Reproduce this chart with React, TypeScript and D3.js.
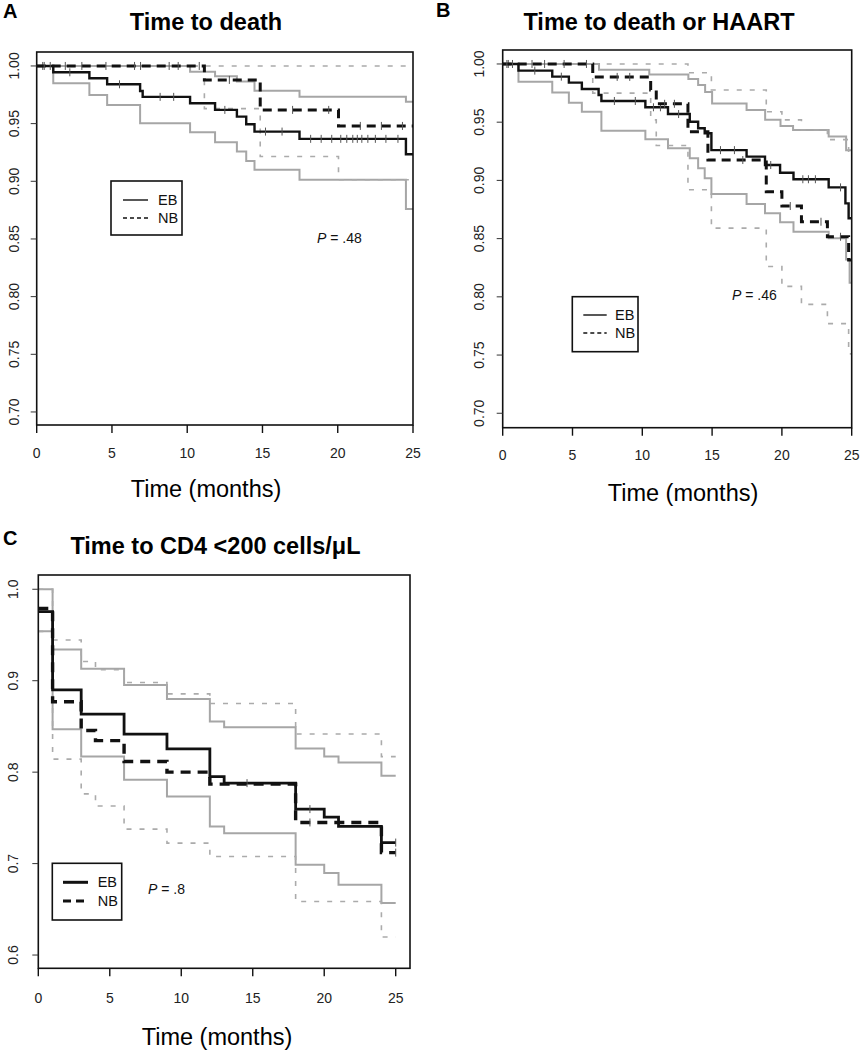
import React from 'react';
import * as d3 from 'd3';

const FONT = '"Liberation Sans", Arial, Helvetica, sans-serif';

// ---------- Panel A: Time to death ----------
const A_EB_T = [0, 1.1, 3.5, 4.68, 6.87, 7.04, 10.19, 11.85, 13.3, 13.92, 14.47, 17.46, 24.53];
const A_EB_S = [1, 0.9945, 0.9893, 0.9841, 0.9783, 0.9732, 0.9677, 0.9619, 0.9561, 0.9495, 0.9431, 0.9368, 0.9235];
const A_EB_LO_T = [0, 1.1, 3.5, 4.68, 6.87, 10.19, 11.85, 13.3, 13.92, 14.47, 17.46, 24.53];
const A_EB_LO_S = [1, 0.985, 0.9749, 0.9662, 0.9504, 0.9426, 0.9339, 0.9258, 0.9177, 0.9099, 0.9013, 0.876];
const A_EB_HI_T = [0, 10.19, 11.85, 13.3, 14.47, 17.46, 24.53];
const A_EB_HI_S = [1, 0.995, 0.991, 0.9865, 0.9784, 0.9734, 0.969];
const A_NB_T = [0, 11.14, 14.85, 20.05];
const A_NB_S = [1, 0.9879, 0.9619, 0.948];
const A_NB_LO_T = [0, 11.14, 14.85, 20.05];
const A_NB_LO_S = [1, 0.963, 0.9215, 0.9013];
const A_NB_HI_T = [0];
const A_NB_HI_S = [1];
const A_EB_CENS = [0.4, 2.2, 5.5, 8.2, 9.1, 12.5, 15.2, 16.3, 18.2, 18.9, 19.6, 20.2, 20.6, 21.0, 21.3, 21.6, 22.0, 22.5, 23.2, 24.0];
const A_NB_CENS = [0.5, 0.9, 1.9, 3.0, 4.6, 6.5, 6.9, 8.8, 9.4, 10.8, 12.8, 17.0, 19.4, 21.5, 22.9, 24.3];

// ---------- Panel B: Time to death or HAART ----------
const B_EB_T = [0, 1.13, 3.55, 4.74, 5.67, 6.87, 7.07, 10.22, 11.84, 13.4, 14.0, 14.47, 14.95, 17.47, 18.79, 19.87, 20.83, 23.35, 24.55, 24.78];
const B_EB_S = [1, 0.9943, 0.9891, 0.984, 0.9785, 0.9734, 0.9682, 0.9628, 0.957, 0.9504, 0.9448, 0.9405, 0.926, 0.9204, 0.9132, 0.9066, 0.901, 0.894, 0.8803, 0.8675];
const B_EB_LO_T = [0, 1.13, 3.55, 4.74, 5.67, 7.07, 10.22, 11.84, 13.4, 14.0, 14.47, 14.95, 17.47, 18.79, 19.87, 20.83, 23.35, 24.6, 24.85];
const B_EB_LO_S = [1, 0.9848, 0.9754, 0.9668, 0.959, 0.9427, 0.9353, 0.9276, 0.919, 0.9104, 0.9018, 0.8883, 0.8797, 0.8717, 0.864, 0.856, 0.8503, 0.832, 0.812];
const B_EB_HI_T = [0, 6.9, 10.5, 13.3, 14.0, 14.5, 15.0, 17.47, 18.8, 19.9, 20.8, 23.35, 24.6];
const B_EB_HI_S = [1, 0.995, 0.991, 0.987, 0.982, 0.976, 0.966, 0.9605, 0.952, 0.9467, 0.9433, 0.9376, 0.926];
const B_NB_T = [0, 6.45, 10.6, 11.0, 13.27, 14.7, 18.88, 20.0, 21.4, 23.26, 24.78];
const B_NB_S = [1, 0.9889, 0.9777, 0.9658, 0.9418, 0.9175, 0.8903, 0.878, 0.8645, 0.8516, 0.8316];
const B_NB_LO_T = [0, 6.45, 10.6, 11.0, 13.27, 14.95, 18.88, 20.0, 21.4, 23.26, 24.78];
const B_NB_LO_S = [1, 0.975, 0.952, 0.93, 0.892, 0.859, 0.826, 0.809, 0.7935, 0.777, 0.751];
const B_NB_HI_T = [0, 13.27, 14.95, 18.88, 20.0, 21.4, 23.26, 24.78];
const B_NB_HI_S = [1, 0.9925, 0.9777, 0.959, 0.952, 0.9433, 0.935, 0.925];
const B_EB_CENS = [0.4, 0.7, 2.3, 4.2, 8.0, 9.5, 10.8, 11.3, 12.6, 15.6, 16.6, 19.2, 21.5, 21.9, 22.4, 24.2];
const B_NB_CENS = [0.3, 2.1, 3.0, 4.4, 6.0, 8.2, 9.1, 11.6, 12.3, 17.2, 20.6, 22.8, 24.2];

// ---------- Panel C: Time to CD4 <200 cells/µL ----------
const C_EB_T = [0, 1, 3, 6, 9, 12, 13, 18, 20, 21, 24];
const C_EB_S = [0.9755, 0.89, 0.8634, 0.8415, 0.8255, 0.7952, 0.788, 0.7596, 0.7508, 0.7406, 0.723];
const C_EB_LO_S = [0.954, 0.847, 0.817, 0.7916, 0.7733, 0.7406, 0.7333, 0.6987, 0.6896, 0.6768, 0.6568];
const C_EB_HI_S = [1, 0.934, 0.913, 0.8954, 0.88, 0.8553, 0.849, 0.826, 0.817, 0.8105, 0.796];
const C_NB_T = [0, 1, 3, 4, 6, 9, 12, 18, 24];
const C_NB_S = [0.979, 0.877, 0.8455, 0.8345, 0.8116, 0.8, 0.7869, 0.745, 0.712];
const C_NB_LO_S = [0.954, 0.8142, 0.7763, 0.763, 0.7377, 0.7224, 0.7077, 0.6586, 0.6197];
const C_NB_HI_S = [1, 0.9446, 0.921, 0.912, 0.898, 0.8856, 0.875, 0.8418, 0.817];
const C_EB_CENS = [14.6, 19.0, 25.0];
const C_NB_CENS = [19.0, 25.0];

const X_TICKS = [0, 5, 10, 15, 20, 25];
const AB_Y_TICKS = [0.7, 0.75, 0.8, 0.85, 0.9, 0.95, 1.0];
const C_Y_TICKS = [0.6, 0.7, 0.8, 0.9, 1.0];
const LEGEND_LABELS = ['EB', 'NB'];

type Series = { t: number[]; s: number[]; role: 'main' | 'ci'; dashed: boolean; cens?: number[] };

interface PanelCfg {
  letter: string; letterX: number; letterY: number;
  title: string; titleX: number; titleY: number;
  box: { x0: number; x1: number; y0: number; y1: number };
  xDomain: [number, number]; yDomain: [number, number];
  yTicks: number[]; yFmt: string; end: number;
  tickLabelY: number; yLabelX: number;
  xLabelX: number; xLabelY: number;
  legend: { x: number; y: number; w: number; h: number; r1: number; r2: number; l0: number; l1: number; tx: number; thick: boolean };
  p: { x: number; y: number; text: string };
  series: Series[];
  mainW: number; dashMain: string;
}

function stepAt(t: number[], s: number[], x: number) {
  let v = s[0];
  for (let i = 0; i < t.length; i++) if (t[i] <= x) v = s[i];
  return v;
}

function Panel({ c }: { c: PanelCfg }) {
  const x = d3.scaleLinear().domain(c.xDomain).range([c.box.x0, c.box.x1]);
  const y = d3.scaleLinear().domain(c.yDomain).range([c.box.y1, c.box.y0]);
  const line = d3.line<[number, number]>().x(d => x(d[0])).y(d => y(d[1])).curve(d3.curveStepAfter);
  const fmt = d3.format(c.yFmt);
  const order = [...c.series].sort((a, b) => (a.role === b.role ? 0 : a.role === 'ci' ? -1 : 1));
  return (
    <g>
      <text x={c.letterX} y={c.letterY} fontFamily={FONT} fontWeight="bold" fontSize={20}>{c.letter}</text>
      <text x={c.titleX} y={c.titleY} textAnchor="middle" fontFamily={FONT} fontWeight="bold" fontSize={23.5}>{c.title}</text>
      {order.map((sr, i) => {
        const pts: [number, number][] = sr.t.map((tt, k) => [tt, sr.s[k]] as [number, number]);
        pts.push([c.end, sr.s[sr.s.length - 1]]);
        const isMain = sr.role === 'main';
        return (
          <g key={i}>
            <path d={line(pts) || ''} fill="none"
              stroke={isMain ? '#111' : sr.dashed ? '#ababab' : '#a6a6a6'}
              strokeWidth={isMain ? (sr.dashed ? c.mainW + 0.6 : c.mainW) : sr.dashed ? 1.6 : 2}
              strokeDasharray={sr.dashed ? (isMain ? c.dashMain : '5,8') : undefined} />
            {(sr.cens || []).map((ct, k) => (
              <line key={k} x1={x(ct)} x2={x(ct)} y1={y(stepAt(sr.t, sr.s, ct)) - 4} y2={y(stepAt(sr.t, sr.s, ct)) + 4}
                stroke="#555" strokeWidth={1} />
            ))}
          </g>
        );
      })}
      <rect x={c.box.x0} y={c.box.y0} width={c.box.x1 - c.box.x0} height={c.box.y1 - c.box.y0} fill="none" stroke="#111" strokeWidth={1.6} />
      {X_TICKS.map(t => (
        <g key={t}>
          <line x1={x(t)} x2={x(t)} y1={c.box.y1} y2={c.box.y1 + 8} stroke="#111" strokeWidth={1.4} />
          <text x={x(t)} y={c.tickLabelY} textAnchor="middle" fontFamily={FONT} fontSize={14} fill="#222">{t}</text>
        </g>
      ))}
      {c.yTicks.map(v => (
        <g key={v}>
          <line x1={c.box.x0 - 6} x2={c.box.x0} y1={y(v)} y2={y(v)} stroke="#333" strokeWidth={1} />
          <text transform={`translate(${c.yLabelX},${y(v)}) rotate(-90)`} textAnchor="middle" fontFamily={FONT} fontSize={14} fill="#222">{fmt(v)}</text>
        </g>
      ))}
      <text x={c.xLabelX} y={c.xLabelY} textAnchor="middle" fontFamily={FONT} fontSize={23.5}>Time (months)</text>
      <rect x={c.legend.x} y={c.legend.y} width={c.legend.w} height={c.legend.h} fill="white" stroke="#111" strokeWidth={1.6} />
      {LEGEND_LABELS.map((lab, i) => {
        const ly = i === 0 ? c.legend.r1 : c.legend.r2;
        return (
          <g key={lab}>
            <line x1={c.legend.l0} x2={c.legend.l1} y1={ly} y2={ly} stroke="#111"
              strokeWidth={c.legend.thick ? 3 : 1.4}
              strokeDasharray={i === 1 ? (c.legend.thick ? '8,5' : '4,3') : undefined} />
            <text x={c.legend.tx} y={ly + 5} fontFamily={FONT} fontSize={14.5} fill="#111">{lab}</text>
          </g>
        );
      })}
      <text x={c.p.x} y={c.p.y} fontFamily={FONT} fontSize={14} fill="#111">
        <tspan fontStyle="italic">P</tspan>{c.p.text}
      </text>
    </g>
  );
}

const panels: PanelCfg[] = [
  {
    letter: 'A', letterX: 3, letterY: 18, title: 'Time to death', titleX: 206, titleY: 30,
    box: { x0: 36.7, x1: 413, y0: 52, y1: 425 }, xDomain: [0, 25], yDomain: [0.6887, 1.0121],
    yTicks: AB_Y_TICKS, yFmt: '.2f', end: 25, tickLabelY: 458, yLabelX: 19, xLabelX: 206, xLabelY: 497,
    legend: { x: 111, y: 181, w: 71, h: 54, r1: 200, r2: 218, l0: 123, l1: 148, tx: 158, thick: false },
    p: { x: 317, y: 243, text: ' = .48' }, mainW: 2.4, dashMain: '9,6',
    series: [
      { t: A_EB_LO_T, s: A_EB_LO_S, role: 'ci', dashed: false },
      { t: A_EB_HI_T, s: A_EB_HI_S, role: 'ci', dashed: false },
      { t: A_NB_LO_T, s: A_NB_LO_S, role: 'ci', dashed: true },
      { t: A_NB_HI_T, s: A_NB_HI_S, role: 'ci', dashed: true },
      { t: A_EB_T, s: A_EB_S, role: 'main', dashed: false, cens: A_EB_CENS },
      { t: A_NB_T, s: A_NB_S, role: 'main', dashed: true, cens: A_NB_CENS },
    ],
  },
  {
    letter: 'B', letterX: 436, letterY: 17, title: 'Time to death or HAART', titleX: 659, titleY: 30,
    box: { x0: 502.7, x1: 851.7, y0: 50, y1: 427.7 }, xDomain: [0, 25], yDomain: [0.6876, 1.012],
    yTicks: AB_Y_TICKS, yFmt: '.2f', end: 25, tickLabelY: 460, yLabelX: 484, xLabelX: 683, xLabelY: 501,
    legend: { x: 572.3, y: 296.7, w: 65.7, h: 55, r1: 315, r2: 333, l0: 583.3, l1: 606.7, tx: 615, thick: false },
    p: { x: 732, y: 300, text: ' = .46' }, mainW: 2.4, dashMain: '9,6',
    series: [
      { t: B_EB_LO_T, s: B_EB_LO_S, role: 'ci', dashed: false },
      { t: B_EB_HI_T, s: B_EB_HI_S, role: 'ci', dashed: false },
      { t: B_NB_LO_T, s: B_NB_LO_S, role: 'ci', dashed: true },
      { t: B_NB_HI_T, s: B_NB_HI_S, role: 'ci', dashed: true },
      { t: B_EB_T, s: B_EB_S, role: 'main', dashed: false, cens: B_EB_CENS },
      { t: B_NB_T, s: B_NB_S, role: 'main', dashed: true, cens: B_NB_CENS },
    ],
  },
  {
    letter: 'C', letterX: 3, letterY: 545, title: 'Time to CD4 <200 cells/μL', titleX: 215.5, titleY: 554,
    box: { x0: 38.3, x1: 410, y0: 575, y1: 968.3 }, xDomain: [0, 26], yDomain: [0.5855, 1.0156],
    yTicks: C_Y_TICKS, yFmt: '.1f', end: 25, tickLabelY: 1003, yLabelX: 18, xLabelX: 217, xLabelY: 1045,
    legend: { x: 52.3, y: 863.3, w: 69.4, h: 56.7, r1: 882.3, r2: 901, l0: 63, l1: 88, tx: 97.7, thick: true },
    p: { x: 148, y: 894, text: ' = .8' }, mainW: 2.8, dashMain: '10,7',
    series: [
      { t: C_EB_T, s: C_EB_LO_S, role: 'ci', dashed: false },
      { t: C_EB_T, s: C_EB_HI_S, role: 'ci', dashed: false },
      { t: C_NB_T, s: C_NB_LO_S, role: 'ci', dashed: true },
      { t: C_NB_T, s: C_NB_HI_S, role: 'ci', dashed: true },
      { t: C_EB_T, s: C_EB_S, role: 'main', dashed: false, cens: C_EB_CENS },
      { t: C_NB_T, s: C_NB_S, role: 'main', dashed: true, cens: C_NB_CENS },
    ],
  },
];

export default function App() {
  return (
    <svg width={862} height={1050} style={{ position: 'absolute', left: 0, top: 0, display: 'block', background: '#fff' }}>
      <rect x={0} y={0} width={862} height={1050} fill="#fff" />
      {panels.map(p => <Panel key={p.letter} c={p} />)}
    </svg>
  );
}
